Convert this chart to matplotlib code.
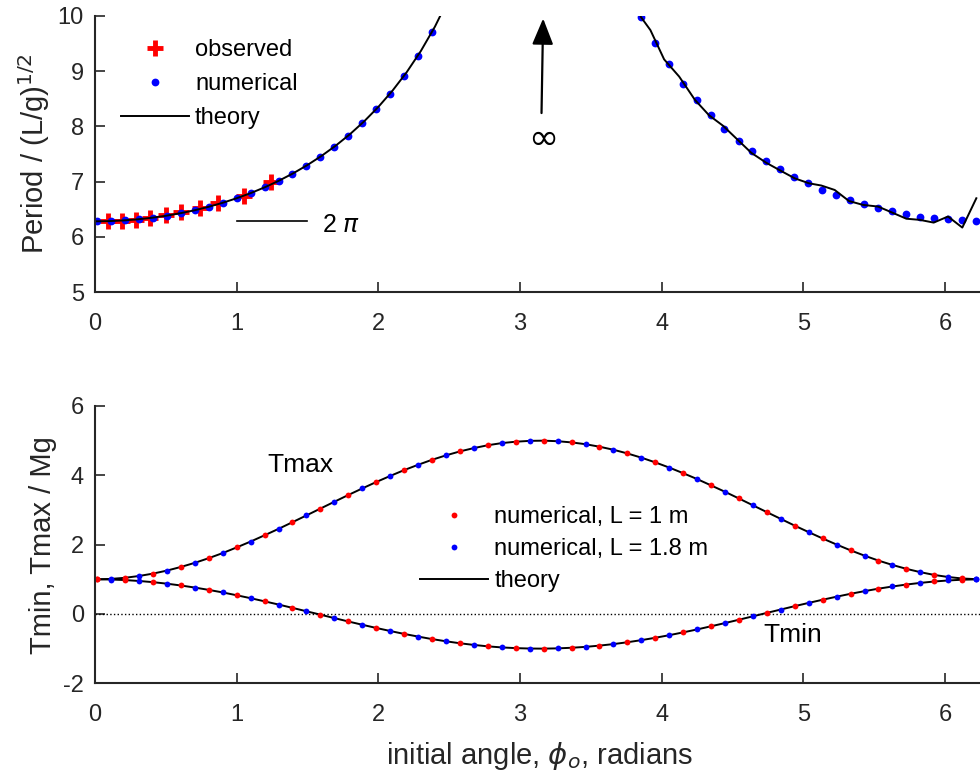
import matplotlib
matplotlib.use('Agg')
import matplotlib.pyplot as plt

plt.rcParams['font.family'] = ['Liberation Sans', 'DejaVu Sans']
plt.rcParams['mathtext.fontset'] = 'dejavusans'
plt.rcParams['axes.unicode_minus'] = False

#%% data, period panel

obs_phi = [0.09, 0.19, 0.29, 0.39, 0.50, 0.61, 0.74, 0.87, 1.05, 1.24]
obs_T   = [6.29, 6.29, 6.31, 6.35, 6.40, 6.46, 6.53, 6.61, 6.74, 6.99]

num_phi_lo = [0.015, 0.114, 0.212, 0.311, 0.409, 0.508, 0.606, 0.705, 0.803, 0.902,
              1.000, 1.099, 1.197, 1.296, 1.394, 1.493, 1.591, 1.690, 1.788, 1.887,
              1.985, 2.084, 2.182, 2.281, 2.379]
num_T_lo   = [6.283, 6.288, 6.301, 6.321, 6.350, 6.386, 6.431, 6.484, 6.546, 6.618,
              6.700, 6.793, 6.897, 7.014, 7.144, 7.289, 7.451, 7.631, 7.832, 8.056,
              8.308, 8.592, 8.913, 9.279, 9.701]

num_phi_hi = [3.853, 3.952, 4.050, 4.149, 4.247, 4.346, 4.444, 4.543, 4.641, 4.740,
              4.838, 4.937, 5.035, 5.134, 5.232, 5.331, 5.429, 5.528, 5.626, 5.725,
              5.823, 5.922, 6.020, 6.119, 6.217]
num_T_hi   = [9.97, 9.51, 9.12, 8.77, 8.47, 8.20, 7.96, 7.74, 7.56, 7.38,
              7.23, 7.09, 6.97, 6.85, 6.75, 6.67, 6.59, 6.52, 6.47, 6.42,
              6.37, 6.34, 6.32, 6.30, 6.29]

th_phi_lo = [0.0, 0.1, 0.2, 0.3, 0.4, 0.5, 0.6, 0.7, 0.8, 0.9, 1.0, 1.1, 1.2,
             1.3, 1.4, 1.5, 1.6, 1.7, 1.8, 1.9, 2.0, 2.1, 2.2, 2.3, 2.4, 2.5]
th_T_lo   = [6.283, 6.287, 6.299, 6.319, 6.347, 6.383, 6.428, 6.481, 6.544, 6.617,
             6.700, 6.794, 6.900, 7.019, 7.152, 7.301, 7.467, 7.652, 7.858, 8.090,
             8.350, 8.644, 8.977, 9.360, 9.803, 10.323]

th_phi_hi = [3.853, 3.921, 4.018, 4.124, 4.235, 4.335, 4.434, 4.540, 4.634, 4.740,
             4.839, 4.940, 5.041, 5.128, 5.222, 5.323, 5.422, 5.528, 5.629, 5.728,
             5.822, 5.921, 6.022, 6.123, 6.222]
th_T_hi   = [9.98, 9.74, 9.21, 8.90, 8.48, 8.20, 8.01, 7.75, 7.52, 7.34,
             7.20, 7.06, 6.97, 6.93, 6.85, 6.65, 6.58, 6.55, 6.44, 6.33,
             6.31, 6.26, 6.37, 6.17, 6.70]

#%% data, tension panel (red = L 1 m on even points, blue = L 1.8 m on odd points)

ten_phi = [0.015, 0.114, 0.212, 0.311, 0.409, 0.508, 0.606, 0.705, 0.803, 0.902,
           1.000, 1.099, 1.197, 1.296, 1.394, 1.493, 1.591, 1.690, 1.788, 1.887,
           1.985, 2.084, 2.182, 2.281, 2.379, 2.478, 2.576, 2.675, 2.773, 2.872,
           2.970, 3.069, 3.167, 3.266, 3.364, 3.463, 3.561, 3.660, 3.758, 3.857,
           3.955, 4.054, 4.152, 4.251, 4.349, 4.448, 4.546, 4.645, 4.743, 4.842,
           4.940, 5.039, 5.137, 5.236, 5.334, 5.433, 5.531, 5.630, 5.728, 5.827,
           5.925, 6.024, 6.122, 6.221]
tmin = [1.000, 0.994, 0.978, 0.952, 0.918, 0.874, 0.822, 0.762, 0.695, 0.621,
        0.540, 0.455, 0.365, 0.272, 0.176, 0.078, -0.020, -0.119, -0.216, -0.311,
        -0.403, -0.491, -0.575, -0.652, -0.724, -0.788, -0.845, -0.893, -0.934, -0.965,
        -0.985, -0.997, -1.000, -0.992, -0.975, -0.949, -0.913, -0.869, -0.816, -0.755,
        -0.687, -0.612, -0.531, -0.446, -0.355, -0.262, -0.166, -0.067, 0.031, 0.129,
        0.226, 0.320, 0.411, 0.499, 0.582, 0.659, 0.730, 0.793, 0.849, 0.897,
        0.937, 0.967, 0.988, 0.998]
tmax = [1.000, 1.012, 1.044, 1.096, 1.164, 1.252, 1.356, 1.476, 1.610, 1.758,
        1.920, 2.090, 2.270, 2.456, 2.648, 2.844, 3.040, 3.238, 3.432, 3.622,
        3.806, 3.982, 4.150, 4.304, 4.448, 4.576, 4.690, 4.786, 4.868, 4.930,
        4.970, 4.994, 5.000, 4.984, 4.950, 4.898, 4.826, 4.738, 4.632, 4.510,
        4.374, 4.224, 4.062, 3.892, 3.710, 3.524, 3.332, 3.134, 2.938, 2.742,
        2.548, 2.360, 2.178, 2.002, 1.836, 1.682, 1.540, 1.414, 1.302, 1.206,
        1.126, 1.066, 1.024, 1.004]

#%% plotting

GREY = '#262626'
FS = 17
LFS = 21

def style(ax):
    for s in ['top', 'right']:
        ax.spines[s].set_visible(False)
    for s in ['left', 'bottom']:
        ax.spines[s].set_color(GREY)
        ax.spines[s].set_linewidth(1.5)
    ax.tick_params(direction='in', length=7, width=1.2, colors=GREY,
                   labelsize=FS)
    ax.tick_params(axis='x', pad=15)
    ax.tick_params(axis='y', pad=8)

fig = plt.figure(figsize=(9.8, 7.77), dpi=100)

# top: period
ax1 = fig.add_axes([95/980, 1 - 292.3/777, 890/980, 276.6/777])
ax1.plot(obs_phi, obs_T, '+', color='red', ms=11, mew=3.5, label='observed')
ax1.plot(num_phi_lo, num_T_lo, 'o', color='blue', ms=5.6, mec='none', label='numerical')
ax1.plot(num_phi_hi, num_T_hi, 'o', color='blue', ms=5.6, mec='none')
ax1.plot(th_phi_lo, th_T_lo, '-', color='black', lw=1.4, label='theory')
ax1.plot(th_phi_hi, th_T_hi, '-', color='black', lw=1.4)

ax1.plot([1.0, 1.5], [6.29, 6.29], '-', color='black', lw=1.2)
ax1.text(1.6, 6.21, r'2 $\pi$', fontsize=18, va='center', ha='left')

ax1.annotate('', xy=(3.164, 10.0), xytext=(3.152, 8.19),
             arrowprops=dict(arrowstyle='-|>,head_length=1.6,head_width=0.65',
                             color='black', lw=1.6), annotation_clip=False)
ax1.text(3.157, 7.78, r'$\infty$', fontsize=26, ha='center', va='center')

ax1.set_xlim(0, 6.2832)
ax1.set_ylim(5, 10)
ax1.set_xticks([0, 1, 2, 3, 4, 5, 6])
ax1.set_yticks([5, 6, 7, 8, 9, 10])
ax1.set_ylabel(r'Period / (L/g)$^{1/2}$', fontsize=LFS, color=GREY)
style(ax1)
ax1.legend(loc='center left', bbox_to_anchor=(120.7/980, 1 - 84/777),
           bbox_transform=fig.transFigure, frameon=False, fontsize=FS,
           handlelength=2.9, handletextpad=0.25, borderpad=0, borderaxespad=0,
           labelspacing=0.5)

# bottom: tensions
ax2 = fig.add_axes([95/980, 1 - 683.3/777, 890/980, 277.3/777])
ax2.plot([0, 6.2832], [0, 0], ':', color='black', lw=1.0)
ax2.plot(ten_phi, tmax, '-', color='black', lw=1.4)
ax2.plot(ten_phi, tmin, '-', color='black', lw=1.4)
ax2.plot(ten_phi[0::2], tmax[0::2], 'o', color='red', ms=4.2, mec='none',
         label='numerical, L = 1 m')
ax2.plot(ten_phi[1::2], tmax[1::2], 'o', color='blue', ms=4.2, mec='none',
         label='numerical, L = 1.8 m')
ax2.plot(ten_phi[0::2], tmin[0::2], 'o', color='red', ms=4.2, mec='none')
ax2.plot(ten_phi[1::2], tmin[1::2], 'o', color='blue', ms=4.2, mec='none')
ax2.plot([], [], '-', color='black', lw=1.4, label='theory')

ax2.text(1.22, 4.31, 'Tmax', fontsize=19, ha='left', va='center')
ax2.text(4.72, -0.6, 'Tmin', fontsize=19, ha='left', va='center')

ax2.set_xlim(0, 6.2832)
ax2.set_ylim(-2, 6)
ax2.set_xticks([0, 1, 2, 3, 4, 5, 6])
ax2.set_yticks([-2, 0, 2, 4, 6])
ax2.set_ylabel('Tmin, Tmax / Mg', fontsize=LFS, color=GREY)
ax2.set_xlabel(r'initial angle, $\phi_o$, radians', fontsize=LFS, color=GREY,
               labelpad=10)
style(ax2)
ax2.legend(loc='center left', bbox_to_anchor=(420/980, 1 - 549/777),
           bbox_transform=fig.transFigure, frameon=False, fontsize=FS,
           handlelength=2.9, handletextpad=0.25, borderpad=0, borderaxespad=0,
           labelspacing=0.42)

fig.savefig('out.png', dpi=100)
